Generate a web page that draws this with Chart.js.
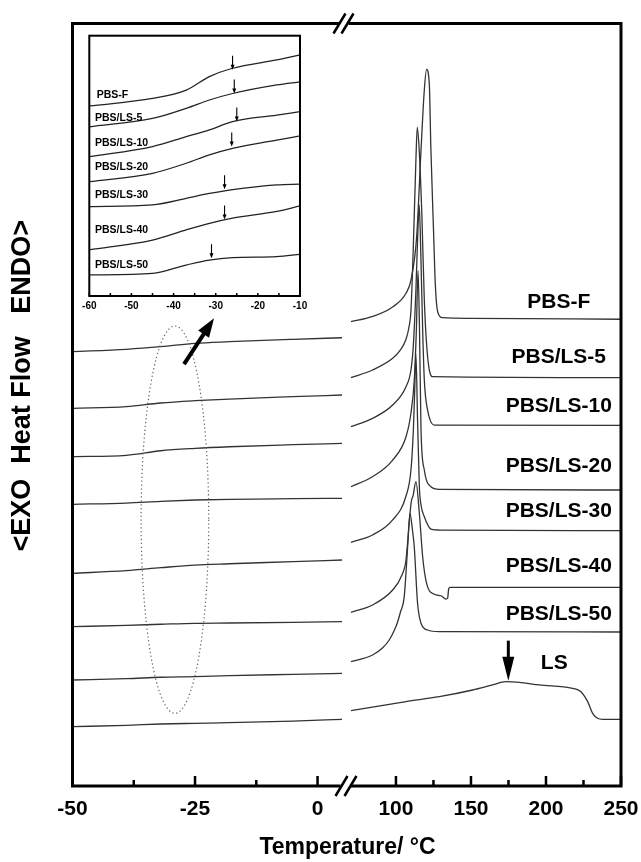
<!DOCTYPE html>
<html><head><meta charset="utf-8">
<script src="https://cdn.jsdelivr.net/npm/chart.js@4/dist/chart.umd.min.js"></script>
<style>
html,body{margin:0;padding:0;background:#fff;}
#wrap{position:relative;width:641px;height:862px;}
#wrap canvas{position:absolute;left:0;top:0;}
</style></head><body>
<div id="wrap"><canvas id="main" width="641" height="862"></canvas><canvas id="inset" width="641" height="862"></canvas></div>
<script>
// ===== DATA =====
const seriesNames = ['PBS-F','PBS/LS-5','PBS/LS-10','PBS/LS-20','PBS/LS-30','PBS/LS-40','PBS/LS-50','LS'];

// low-temperature segment (-50 .. 5 °C), heat flow in a.u.
const lowTemps = [-50, -39, -32, -25, -18, -5, 5];
const lowF    = [56.96, 57.27, 57.61, 58.06, 58.27, 58.58, 58.79];
const low5    = [49.53, 49.75, 50.23, 50.53, 50.75, 51.06, 51.28];
const low10   = [43.19, 43.37, 43.97, 44.28, 44.49, 44.76, 44.94];
const low20   = [36.94, 37.11, 37.34, 37.51, 37.60, 37.68, 37.73];
const low30   = [27.89, 28.24, 28.63, 28.98, 29.15, 29.42, 29.64];
const low40   = [20.89, 21.07, 21.21, 21.34, 21.38, 21.47, 21.55];
const low50   = [13.90, 14.07, 14.26, 14.34, 14.47, 14.64, 14.77];
const lowLS   = [7.78, 7.96, 8.13, 8.22, 8.30, 8.52, 8.75];

// high-temperature segment (70 .. 250 °C)
const hiTempsF = [70, 84, 98, 106.7, 110, 113.8, 116.7, 118.9, 120.4, 122.2, 123.3, 125.1, 126.2, 127.8, 131.1, 149, 250];
const hiFlowF  = [60.89, 61.55, 62.86, 64.62, 66.36, 72.04, 83.41, 91.28, 93.99, 92.16, 83.41, 72.49, 65.93, 62.20, 61.42, 61.34, 61.21];
const hiTemps5 = [70, 84.4, 97.8, 103, 106.7, 108.5, 110, 111.5, 113.3, 114.2, 115.5, 117.3, 118.9, 121.1, 124.4, 250];
const hiFlow5  = [53.55, 54.56, 56.10, 57.20, 58.60, 60.00, 62.43, 70.30, 82.10, 86.39, 83.41, 74.66, 63.74, 56.30, 53.68, 53.55];
const hiTemps10 = [70, 84.4, 97.8, 106.7, 110, 111.6, 113.3, 114.4, 115.5, 116.5, 117.8, 118.9, 121.1, 125.6, 250];
const hiFlow10  = [47.12, 48.22, 49.97, 52.37, 54.56, 57.84, 65.05, 71.61, 76.20, 70.30, 59.80, 53.25, 49.31, 47.34, 47.30];
const hiTemps20 = [70, 84.4, 97.8, 106.7, 110, 112.2, 113.6, 114.7, 115.7, 116.7, 118.9, 123.3, 128.9, 250];
const hiFlow20  = [39.25, 40.56, 42.75, 45.81, 48.92, 53.25, 59.80, 67.58, 59.80, 46.69, 41.44, 39.25, 38.91, 38.82];
const hiTemps30 = [70, 84.4, 97.8, 106.7, 110, 111.6, 112.5, 113.3, 114.4, 115.6, 116.7, 118.9, 123.3, 128.9, 250];
const hiFlow30  = [31.96, 32.92, 34.89, 38.03, 41.44, 46.69, 51.93, 56.66, 48.0, 39.25, 36.85, 35.32, 33.70, 33.57, 33.48];
const hiTemps40 = [70, 84.4, 97.8, 104, 106.7, 109, 110.2, 111.5, 113.3, 115.6, 117.8, 120.4, 125.6, 130, 133.3, 134.4, 135.2, 136, 250];
const hiFlow40  = [22.78, 23.74, 25.70, 27.67, 29.64, 34.89, 37.25, 38.16, 39.91, 35.76, 30.07, 26.58, 25.15, 24.95, 24.52, 24.60, 25.90, 26.06, 26.06];
const hiTemps50 = [70, 84.4, 91, 95.5, 99, 101.1, 103, 105.5, 107.8, 109.3, 111, 112.2, 114.4, 116.7, 121.1, 128.9, 250];
const hiFlow50  = [16.30, 17.18, 18.10, 19.15, 20.46, 21.51, 22.82, 24.83, 31.38, 35.76, 33.57, 31.38, 23.96, 21.34, 20.46, 20.24, 20.20];
const hiTempsLS = [70, 106.7, 128.9, 151.1, 164.4, 173.3, 182.2, 195.5, 217.8, 223.3, 227.8, 231.1, 234.4, 237.8, 250];
const hiFlowLS  = [9.88, 11.06, 11.71, 12.59, 13.25, 13.68, 13.60, 13.25, 12.81, 12.37, 11.06, 9.53, 8.88, 8.75, 8.75];

// axis ticks
const lowTicks = [-50, -25, 0];
const lowMinorTicks = [-37.5, -12.5];
const highTicks = [100, 150, 200, 250];
const highMinorTicks = [125, 175, 225];

// curve labels (right side) and LS marker
const labelTemp = 208.5;
const labelFlow = [63.5, 56.26, 49.84, 41.88, 36.07, 28.89, 22.56];
const lsLabelTemp = 205.5, lsLabelFlow = 16.09;
const lsArrowTemp = 174.9, lsArrowFrom = 19.06, lsArrowTo = 13.81;

// annotation in low segment: dotted ellipse and arrow to inset
const ellipseTemp = -29.1, ellipseFlow = 34.93, ellipseHalfTemp = 6.9, ellipseHalfFlow = 25.4;
const pointerFrom = [-27.24, 55.34], pointerTo = [-21.12, 61.34];

// inset (glass transition region)
const insetTemps = [-60, -45, -37, -31.5, -26, -15.5, -10];
const insetF  = [73.0, 75.9, 79.1, 84.3, 87.5, 90.7, 92.6];
const inset5  = [65.0, 68.2, 72.1, 75.3, 77.8, 81.1, 82.3];
const inset10 = [53.5, 57.4, 61.2, 63.8, 67.0, 69.5, 70.8];
const inset20 = [43.9, 47.1, 51.0, 54.2, 56.7, 59.9, 61.5];
const inset30 = [34.3, 35.0, 37.5, 39.4, 40.9, 42.7, 43.0];
const inset40 = [17.7, 21.5, 25.4, 27.9, 29.9, 32.5, 34.6];
const inset50 = [8.1, 8.7, 11.9, 13.8, 14.7, 15.1, 16.0];
const insetTicks = [-60, -50, -40, -30, -20, -10];
const insetMinorTicks = [-55, -45, -35, -25, -15];
const insetTg = [-26.0, -25.6, -25.0, -26.2, -27.9, -27.9, -31.0];
const insetTgFlow = [86.9, 77.8, 67.0, 57.4, 41.0, 29.4, 14.5];
const insetLabelTemps = [-58.25, -58.65, -58.65, -58.65, -58.65, -58.65, -58.65];
const insetLabelFlow = [77.2, 68.3, 58.7, 49.7, 38.8, 25.4, 11.9];

// ===== CHART =====
const FONT = '"Liberation Sans", Arial, Helvetica, sans-serif';
Chart.defaults.font.family = FONT;
Chart.defaults.color = '#000';

const lineStyle = {borderColor:'#333', borderWidth:1.3, pointRadius:0, fill:false, cubicInterpolationMode:'monotone'};
const lowSeries = [lowF, low5, low10, low20, low30, low40, low50, lowLS];
const highSeries = [[hiTempsF,hiFlowF],[hiTemps5,hiFlow5],[hiTemps10,hiFlow10],[hiTemps20,hiFlow20],
  [hiTemps30,hiFlow30],[hiTemps40,hiFlow40],[hiTemps50,hiFlow50],[hiTempsLS,hiFlowLS]];
const pair = (xs, ys) => xs.map((x,i)=>({x:x, y:ys[i]}));

const datasets = [];
lowSeries.forEach((arr,i)=>datasets.push(Object.assign({label:seriesNames[i], xAxisID:'xL', yAxisID:'y', data:pair(lowTemps, arr)}, lineStyle)));
highSeries.forEach((s,i)=>datasets.push(Object.assign({label:seriesNames[i], xAxisID:'xR', yAxisID:'y', data:pair(s[0], s[1])}, lineStyle)));

function arrow(ctx, x1, y1, x2, y2, lw, hl, hw) {
  const a = Math.atan2(y2-y1, x2-x1);
  const bx = x2 - hl*Math.cos(a), by = y2 - hl*Math.sin(a);
  ctx.beginPath(); ctx.lineWidth = lw; ctx.moveTo(x1,y1); ctx.lineTo(bx+Math.cos(a), by+Math.sin(a)); ctx.stroke();
  ctx.beginPath(); ctx.moveTo(x2,y2);
  ctx.lineTo(bx + hw/2*Math.sin(a), by - hw/2*Math.cos(a));
  ctx.lineTo(bx - hw/2*Math.sin(a), by + hw/2*Math.cos(a));
  ctx.closePath(); ctx.fill();
}

const mainDecor = {
  id:'mainDecor',
  afterDraw(chart) {
    const {ctx, chartArea:a, scales} = chart;
    const xL = scales.xL, xR = scales.xR, y = scales.y;
    ctx.save();
    ctx.strokeStyle = '#000'; ctx.fillStyle = '#000'; ctx.lineCap = 'butt';
    // frame
    const bx = xL.right;
    ctx.lineWidth = 3;
    ctx.beginPath();
    ctx.moveTo(a.left, a.top - 1.5); ctx.lineTo(a.left, a.bottom + 1.5);
    ctx.moveTo(a.right, a.top - 1.5); ctx.lineTo(a.right, a.bottom + 1.5);
    ctx.moveTo(a.left, a.top); ctx.lineTo(bx - 5, a.top);
    ctx.moveTo(bx + 4, a.top); ctx.lineTo(a.right, a.top);
    ctx.moveTo(a.left, a.bottom); ctx.lineTo(bx - 4, a.bottom);
    ctx.moveTo(bx + 6, a.bottom); ctx.lineTo(a.right, a.bottom);
    ctx.stroke();
    // break marks
    ctx.lineWidth = 2.5;
    ctx.beginPath();
    [[bx-5, a.top], [bx+3, a.top], [bx-3, a.bottom], [bx+6, a.bottom]].forEach(([cx,cy])=>{
      ctx.moveTo(cx-6, cy+10); ctx.lineTo(cx+6, cy-10);
    });
    ctx.stroke();
    // inward ticks
    ctx.lineWidth = 2.5;
    ctx.beginPath();
    const tick = (sc, v, len) => { const px = sc.getPixelForValue(v); ctx.moveTo(px, a.bottom); ctx.lineTo(px, a.bottom - len); };
    lowTicks.forEach(v=>tick(xL, v, 10)); lowMinorTicks.forEach(v=>tick(xL, v, 6));
    highTicks.forEach(v=>tick(xR, v, 10)); highMinorTicks.forEach(v=>tick(xR, v, 6));
    ctx.stroke();
    // dotted ellipse
    ctx.save();
    ctx.strokeStyle = '#666'; ctx.lineWidth = 1.2; ctx.setLineDash([1.3, 2.6]);
    const ex = xL.getPixelForValue(ellipseTemp), ey = y.getPixelForValue(ellipseFlow);
    const erx = xL.getPixelForValue(ellipseTemp + ellipseHalfTemp) - ex;
    const ery = ey - y.getPixelForValue(ellipseFlow + ellipseHalfFlow);
    ctx.beginPath(); ctx.ellipse(ex, ey, erx, ery, 0, 0, Math.PI*2); ctx.stroke();
    ctx.restore();
    // arrow pointing to inset
    arrow(ctx, xL.getPixelForValue(pointerFrom[0]), y.getPixelForValue(pointerFrom[1]),
               xL.getPixelForValue(pointerTo[0]), y.getPixelForValue(pointerTo[1]), 4, 19, 13);
    // LS arrow
    const lx = xR.getPixelForValue(lsArrowTemp);
    arrow(ctx, lx, y.getPixelForValue(lsArrowFrom), lx, y.getPixelForValue(lsArrowTo), 3, 24, 12);
    // curve labels
    ctx.font = 'bold 21px ' + FONT; ctx.textAlign = 'center'; ctx.textBaseline = 'middle';
    labelFlow.forEach((v,i)=>ctx.fillText(seriesNames[i], xR.getPixelForValue(labelTemp), y.getPixelForValue(v)));
    ctx.fillText(seriesNames[7], xR.getPixelForValue(lsLabelTemp), y.getPixelForValue(lsLabelFlow));
    // axis titles
    ctx.font = 'bold 23px ' + FONT;
    ctx.fillText('Temperature/ \u00B0C', bx + 3, a.bottom + 62);
    ctx.save();
    ctx.translate(a.left - 49.5, (a.top + a.bottom)/2 - 19);
    ctx.rotate(-Math.PI/2);
    ctx.font = 'bold 27px ' + FONT;
    ctx.fillText('<EXO  Heat Flow   ENDO>', 0, 0);
    ctx.restore();
    ctx.restore();
  }
};

const tickFont = {size:21, weight:'bold', family:FONT};
const fitX = (s)=>{ s.height = 40; s.paddingLeft = 0; s.paddingRight = 0; };
new Chart(document.getElementById('main'), {
  type:'line',
  data:{datasets},
  options:{
    responsive:false, animation:false, devicePixelRatio:1,
    layout:{padding:{left:72.5, right:20, top:23.5, bottom:36}},
    plugins:{legend:{display:false}, tooltip:{enabled:false}},
    scales:{
      xL:{type:'linear', position:'bottom', stack:'x', stackWeight:272, min:-50, max:5.5,
          afterBuildTicks:(s)=>{ s.ticks = lowTicks.map(v=>({value:v})); },
          afterFit:fitX,
          ticks:{font:tickFont, color:'#000', padding:11, autoSkip:false, maxRotation:0},
          grid:{display:false, drawTicks:false}, border:{display:false}},
      xR:{type:'linear', position:'bottom', stack:'x', stackWeight:276.5, min:65.7, max:250,
          afterBuildTicks:(s)=>{ s.ticks = highTicks.map(v=>({value:v})); },
          afterFit:fitX,
          ticks:{font:tickFont, color:'#000', padding:11, autoSkip:false, maxRotation:0},
          grid:{display:false, drawTicks:false}, border:{display:false}},
      y:{type:'linear', min:0, max:100, display:false}
    }
  },
  plugins:[mainDecor]
});

// ===== INSET =====
const insetSeries = [insetF, inset5, inset10, inset20, inset30, inset40, inset50];
const insetDecor = {
  id:'insetDecor',
  beforeDatasetsDraw(chart) {
    const {ctx, chartArea:a} = chart;
    ctx.save(); ctx.fillStyle = '#fff'; ctx.fillRect(a.left, a.top, a.width, a.height); ctx.restore();
  },
  afterDraw(chart) {
    const {ctx, chartArea:a, scales} = chart;
    const x = scales.x, y = scales.y;
    ctx.save();
    ctx.strokeStyle = '#000'; ctx.fillStyle = '#000';
    ctx.lineWidth = 2;
    ctx.strokeRect(a.left, a.top, a.width, a.height);
    ctx.lineWidth = 1.5;
    ctx.beginPath();
    insetTicks.concat(insetMinorTicks).forEach(v=>{ const px = x.getPixelForValue(v); ctx.moveTo(px, a.bottom); ctx.lineTo(px, a.bottom - 3); });
    ctx.stroke();
    insetTg.forEach((t,i)=>{
      const px = x.getPixelForValue(t), py = y.getPixelForValue(insetTgFlow[i]);
      arrow(ctx, px, py - 14, px, py, 1.1, 5, 4);
    });
    ctx.font = 'bold 10.5px ' + FONT; ctx.textAlign = 'left'; ctx.textBaseline = 'middle';
    insetLabelFlow.forEach((v,i)=>ctx.fillText(seriesNames[i], x.getPixelForValue(insetLabelTemps[i]), y.getPixelForValue(v)));
    ctx.restore();
  }
};
new Chart(document.getElementById('inset'), {
  type:'line',
  data:{datasets: insetSeries.map((arr,i)=>Object.assign({label:seriesNames[i], data:pair(insetTemps, arr)},
        {borderColor:'#222', borderWidth:1.25, pointRadius:0, fill:false, cubicInterpolationMode:'monotone'}))},
  options:{
    responsive:false, animation:false, devicePixelRatio:1,
    layout:{padding:{left:89.3, right:341, top:35.7, bottom:546}},
    plugins:{legend:{display:false}, tooltip:{enabled:false}},
    scales:{
      x:{type:'linear', min:-60, max:-10,
         afterBuildTicks:(s)=>{ s.ticks = insetTicks.map(v=>({value:v})); },
         afterFit:(s)=>{ s.height = 20; s.paddingLeft = 0; s.paddingRight = 0; },
         ticks:{font:{size:10, weight:'bold', family:FONT}, color:'#000', padding:4, autoSkip:false, maxRotation:0},
         grid:{display:false, drawTicks:false}, border:{display:false}},
      y:{type:'linear', min:0, max:100, display:false}
    }
  },
  plugins:[insetDecor]
});
</script>
</body></html>
